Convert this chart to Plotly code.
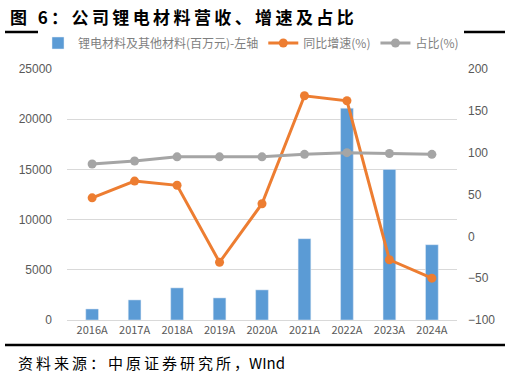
import plotly.graph_objects as go

categories = ["2016A", "2017A", "2018A", "2019A", "2020A", "2021A", "2022A", "2023A", "2024A"]
revenue = [1100, 2000, 3200, 2200, 3000, 8100, 21100, 15000, 7500]
growth = [46, 66, 61, -31, 39, 168, 162, -28, -50]
share = [86.5, 90, 95, 95, 95, 98, 100, 99, 98]

FONT = "Noto Sans CJK SC"
TS = "\u2009"


def spaced(s):
    return TS.join(list(s))


fig = go.Figure()
fig.add_trace(go.Bar(x=categories, y=revenue, name="锂电材料及其他材料(百万元)-左轴",
                     marker=dict(color="#5B9BD5"), yaxis="y"))
fig.add_trace(go.Scatter(x=categories, y=growth, name="同比增速(%)", mode="lines+markers",
                         line=dict(color="#ED7D31", width=3), marker=dict(size=9, color="#ED7D31"),
                         yaxis="y2"))
fig.add_trace(go.Scatter(x=categories, y=share, name="占比(%)", mode="lines+markers",
                         line=dict(color="#A5A5A5", width=3), marker=dict(size=9, color="#A5A5A5"),
                         yaxis="y2"))

fig.update_layout(
    width=510, height=379,
    margin=dict(l=67, r=53, t=69, b=59, autoexpand=False),
    paper_bgcolor="white", plot_bgcolor="white",
    font=dict(family=FONT, size=11, color="#595959"),
    bargap=0.7,
    showlegend=True,
    legend=dict(orientation="h", xref="paper", yref="paper", x=(38 - 67) / 390, xanchor="left",
                y=(320 - 43) / 251, yanchor="middle", itemwidth=30, tracegroupgap=0,
                font=dict(size=12, color="#7F7F7F"), traceorder="normal"),
    xaxis=dict(showgrid=False, showline=True, linecolor="#D9D9D9", ticks="",
               tickfont=dict(family=FONT, size=11, color="#595959")),
    yaxis=dict(range=[0, 25000], dtick=5000, tickformat="d", showgrid=True, gridcolor="#D9D9D9",
               zeroline=False, tickfont=dict(family="Liberation Sans, Arial", size=12, color="#595959"),
               ticklabelstandoff=14),
    yaxis2=dict(range=[-100, 200], dtick=50, overlaying="y", side="right", showgrid=False,
                zeroline=False, tickfont=dict(family="Liberation Sans, Arial", size=12, color="#595959"),
                ticklabelstandoff=10),
)

fig.add_annotation(text="<b>" + spaced("图 6：公司锂电材料营收、增速及占比") + "</b>", xref="paper", yref="paper",
                   x=(8 - 67) / 390, y=(320 - 17) / 251, xanchor="left", yanchor="middle",
                   showarrow=False, font=dict(family=FONT, size=17, color="black"))
fig.add_shape(type="line", xref="paper", yref="paper", x0=(5 - 67) / 390, x1=(505 - 67) / 390,
              y0=(320 - 32) / 251, y1=(320 - 32) / 251, line=dict(color="black", width=2.5))
fig.add_shape(type="line", xref="paper", yref="paper", x0=(5 - 67) / 390, x1=(505 - 67) / 390,
              y0=(320 - 345) / 251, y1=(320 - 345) / 251, line=dict(color="black", width=2.5))
fig.add_annotation(text=spaced("资料来源：中原证券研究所，") + "WInd", xref="paper", yref="paper",
                   x=(16 - 67) / 390, y=(320 - 362) / 251, xanchor="left", yanchor="middle",
                   showarrow=False, font=dict(family=FONT, size=15, color="black"))

fig.write_html("out.html", config={"displayModeBar": False},
               post_script="document.body.style.margin='0';")
